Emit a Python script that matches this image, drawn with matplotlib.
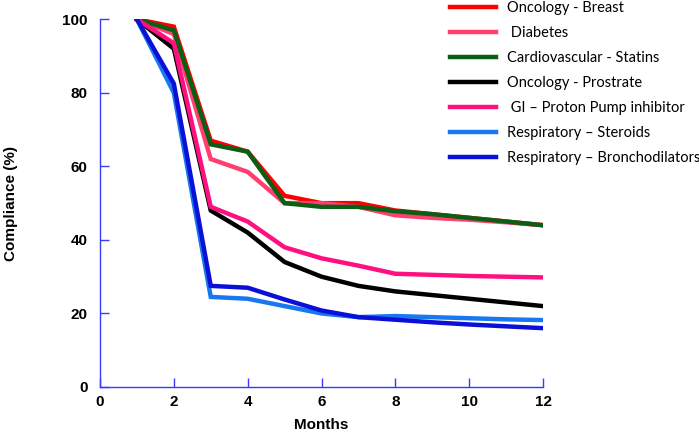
import matplotlib
matplotlib.use("Agg")
import matplotlib.pyplot as plt

# months on the x axis
months = [1, 2, 3, 4, 5, 6, 7, 8, 9, 10, 11, 12]

# compliance (%) per therapy area
onc_breast = [100, 98, 67, 64, 52, 50, 50, 48, 47, 46, 45, 44]
diabetes = [100, 96, 62, 58.5, 50, 50, 49, 46.7, 46, 45.5, 44.8, 44]
cardio_statins = [100, 97, 66, 64, 50, 49, 49, 47.8, 47, 46, 45, 44]
onc_prostate = [100, 92, 48, 42, 34, 30, 27.5, 26, 25, 24, 23, 22]
gi_ppi = [100, 93.5, 49, 45, 38, 35, 33, 30.8, 30.5, 30.2, 30, 29.8]
resp_steroids = [100, 80, 24.5, 24, 22, 20, 19, 19.3, 19, 18.7, 18.4, 18.2]
resp_broncho = [100, 82.5, 27.5, 27, 23.8, 20.8, 19, 18.3, 17.6, 17, 16.5, 16]

labels = ["Oncology - Breast", " Diabetes", "Cardiovascular - Statins",
          "Oncology - Prostrate", " GI \u2013 Proton Pump inhibitor",
          "Respiratory \u2013 Steroids", "Respiratory \u2013 Bronchodilators"]
series = [onc_breast, diabetes, cardio_statins, onc_prostate, gi_ppi,
          resp_steroids, resp_broncho]
colors = ["#ff0000", "#ff3f6f", "#0b5e13", "#000000", "#ff1080",
          "#1878f0", "#0a10d8"]

axis_blue = "#3a3aff"
line_width = 3.2

fig = plt.figure(figsize=(6.99, 4.34), dpi=100)
ax = fig.add_axes([100 / 699, 1 - 387 / 434, 443 / 699, (387 - 19.3) / 434])

handles = []
for vals, col, lab in zip(series, colors, labels):
    h, = ax.plot(months, vals, color=col, linewidth=line_width,
                 solid_joinstyle="miter", label=lab)
    handles.append(h)

ax.set_xlim(0, 12)
ax.set_ylim(0, 100)
ax.set_xticks([0, 2, 4, 6, 8, 10, 12])
ax.set_yticks([0, 20, 40, 60, 80, 100])

for side in ["top", "right"]:
    ax.spines[side].set_visible(False)
for side in ["left", "bottom"]:
    ax.spines[side].set_color(axis_blue)
    ax.spines[side].set_linewidth(1.0)

ax.tick_params(axis="both", direction="in", length=6.5, width=1.0,
               color=axis_blue, labelsize=11)
ax.tick_params(axis="y", pad=9)
ax.tick_params(axis="x", pad=6)
for t in ax.get_xticklabels() + ax.get_yticklabels():
    t.set_fontweight("bold")
    t.set_fontfamily("Liberation Sans")

ax.set_xlabel("Months", fontsize=11, fontweight="bold", family="Liberation Sans")
ax.set_ylabel("Compliance (%)", fontsize=11, fontweight="bold", family="Liberation Sans")
ax.xaxis.set_label_coords(0.5, -0.085)
ax.yaxis.set_label_coords(-0.186, 0.5)

leg = fig.legend(handles=handles, labels=labels, loc="upper left",
                 bbox_to_anchor=(437 / 699, 1 + 12 / 434), frameon=False,
                 handlelength=3.15, handletextpad=0.75, labelspacing=0.75,
                 prop={"family": "Lato", "size": 10.5})

fig.savefig("out.png", dpi=100)
